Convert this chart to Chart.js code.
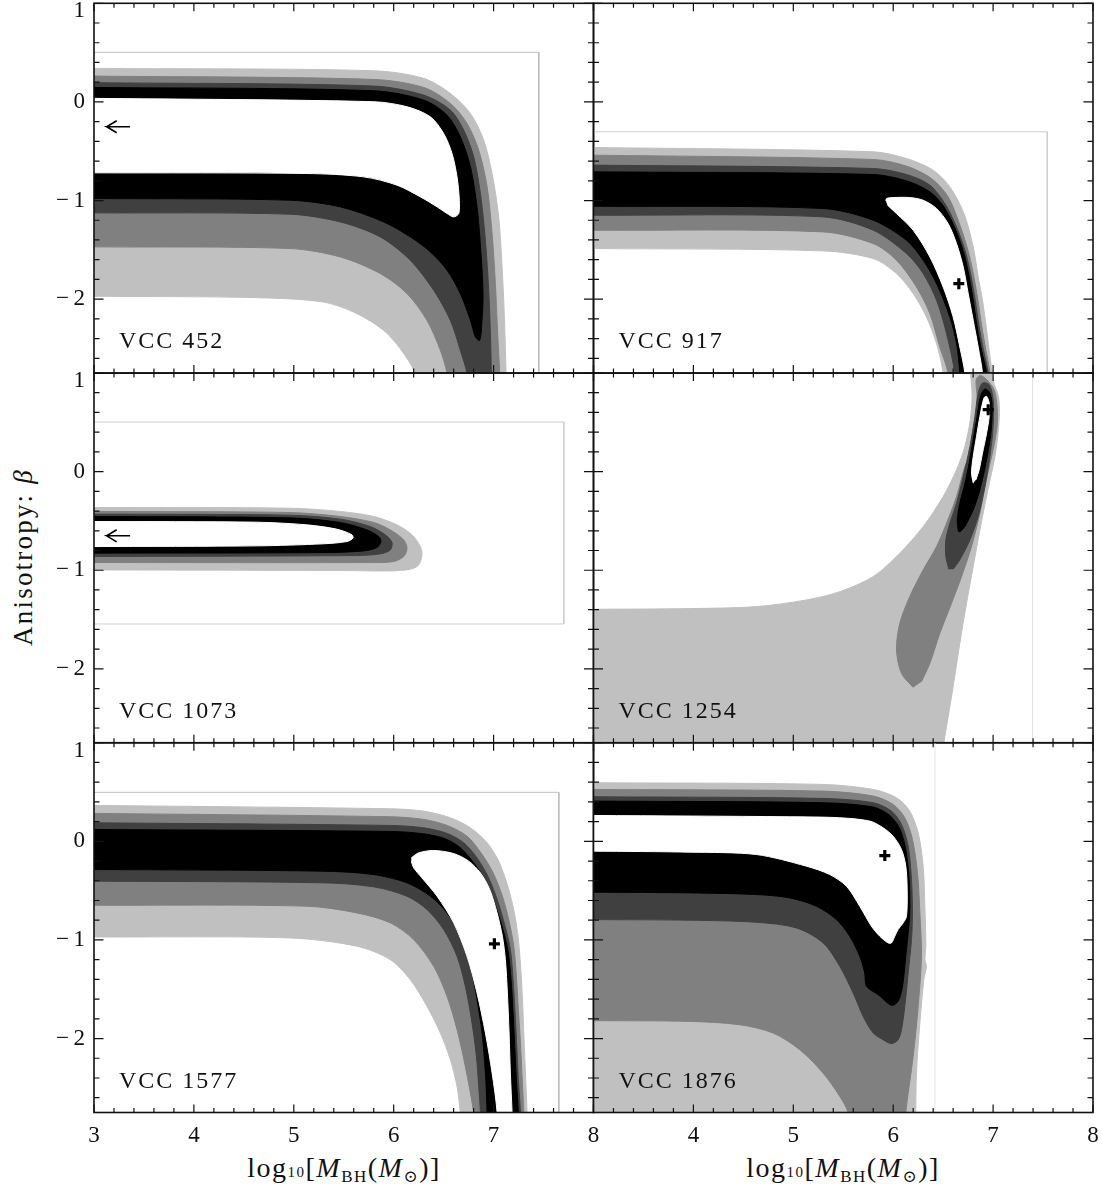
<!DOCTYPE html>
<html lang="en">
<head>
<meta charset="UTF-8">
<title>Anisotropy vs black hole mass - six VCC galaxies</title>
<script src="https://cdn.jsdelivr.net/npm/chart.js"></script>
<style>
  html, body { margin: 0; padding: 0; background: #fff; }
  #figure { position: relative; width: 1102px; height: 1195px; overflow: hidden;
            font-family: "Liberation Serif", "DejaVu Serif", serif; color: #111; }
  #figure canvas { position: absolute; }
  .xtitle { position: absolute; top: 1151px; width: 320px; margin-left: -160px; text-align: center;
            font-size: 28px; line-height: 34px; letter-spacing: 1.5px; white-space: nowrap; }
  .xtitle .small { font-size: 15px; }
  .xtitle sub { font-size: 17px; vertical-align: -5px; }
  .ytitle { position: absolute; left: 23px; top: 557px; transform: translate(-50%, -50%) rotate(-90deg);
            font-size: 27px; letter-spacing: 2.2px; white-space: nowrap; }
</style>
</head>
<body>
<div id="figure">
  <div class="xtitle" style="left:344px">log<span class="small">10</span>[<i>M</i><sub>BH</sub>(<i>M</i><sub>⊙</sub>)]</div>
  <div class="xtitle" style="left:843px">log<span class="small">10</span>[<i>M</i><sub>BH</sub>(<i>M</i><sub>⊙</sub>)]</div>
  <div class="ytitle">Anisotropy: <i>β</i></div>
</div>
<script>
// axes
const massTicks = [3, 4, 5, 6, 7, 8];
const betaTicks = [-2, -1, 0, 1];

// VCC 452  (outer shade first, best region last)
const v452Light = [[2.8,0.34],[3,0.34],[5.8,0.316],[6.3,0.239],[6.567,0.086],[6.768,-0.117],[6.901,-0.387],[6.985,-0.726],[7.051,-1.166],[7.085,-1.673],[7.108,-2.181],[7.125,-2.75],[7.13,-2.95],
  [6.26,-2.95],[6.216,-2.75],[6.066,-2.503],[5.899,-2.316],[5.632,-2.147],[5.298,-2.03],[4.63,-1.985],[3,-1.971],[2.8,-1.971]];
const v452Mid = [[2.8,0.262],[3,0.262],[5.8,0.228],[6.3,0.147],[6.567,-0.015],[6.734,-0.218],[6.851,-0.489],[6.935,-0.861],[6.985,-1.335],[7.018,-1.843],[7.041,-2.35],[7.061,-2.75],[7.065,-2.95],
  [6.56,-2.95],[6.534,-2.75],[6.467,-2.519],[6.333,-2.215],[6.133,-1.944],[5.866,-1.741],[5.465,-1.572],[4.964,-1.487],[3,-1.47],[2.8,-1.47]];
const v452Dark = [[2.8,0.195],[3,0.195],[5.8,0.161],[6.3,0.069],[6.567,-0.083],[6.701,-0.287],[6.801,-0.557],[6.868,-0.929],[6.918,-1.403],[6.951,-1.91],[6.968,-2.35],[6.978,-2.75],[6.98,-2.95],
  [6.76,-2.95],[6.734,-2.75],[6.667,-2.519],[6.567,-2.215],[6.4,-1.91],[6.166,-1.606],[5.866,-1.369],[5.465,-1.217],[4.964,-1.139],[3,-1.125],[2.8,-1.125]];
const v452Black = [[2.8,0.147],[3,0.147],[5.8,0.113],[6.3,0.019],[6.534,-0.134],[6.667,-0.354],[6.768,-0.658],[6.834,-1.064],[6.874,-1.538],[6.894,-1.944],[6.884,-2.215],[6.861,-2.418],
  [6.818,-2.384],[6.768,-2.215],[6.667,-1.944],[6.534,-1.707],[6.367,-1.521],[6.166,-1.369],[5.899,-1.217],[5.465,-1.064],[4.964,-0.997],[3,-0.98],[2.8,-0.98]];
const v452Best = [[2.8,0.036],[3,0.036],[5.8,0.002],[6.133,-0.049],[6.367,-0.151],[6.5,-0.32],[6.584,-0.523],[6.634,-0.76],[6.657,-0.997],[6.651,-1.132],[6.6,-1.166],[6.534,-1.132],
  [6.434,-1.064],[6.267,-0.963],[6.033,-0.844],[5.699,-0.76],[5.131,-0.726],[3,-0.719],[2.8,-0.719]];
const v452Grid = [[3,0.503],[7.452,0.503],[7.452,-2.95]];
const v452Limit = [[3.227,-0.191],[3.127,-0.252],[3.227,-0.313],[3.127,-0.252],[3.361,-0.252]];

// VCC 917
const v917Light = [[2.8,-0.462],[3,-0.462],[5.8,-0.506],[6.133,-0.574],[6.4,-0.692],[6.567,-0.861],[6.708,-1.132],[6.801,-1.47],[6.851,-1.775],[6.894,-2.012],[6.931,-2.283],[6.961,-2.519],[6.988,-2.75],[6.99,-2.95],
  [6.5,-2.95],[6.5,-2.75],[6.434,-2.452],[6.333,-2.181],[6.2,-1.944],[6.033,-1.741],[5.8,-1.589],[5.298,-1.511],[3,-1.487],[2.8,-1.487]];
const v917Mid = [[2.8,-0.54],[3,-0.54],[5.8,-0.584],[6.133,-0.651],[6.383,-0.777],[6.55,-0.963],[6.674,-1.267],[6.757,-1.538],[6.808,-1.775],[6.848,-2.012],[6.888,-2.283],[6.928,-2.519],[6.968,-2.75],[6.97,-2.95],
  [6.56,-2.95],[6.55,-2.75],[6.467,-2.486],[6.367,-2.147],[6.233,-1.877],[6.033,-1.606],[5.8,-1.437],[5.298,-1.318],[3,-1.301],[2.8,-1.301]];
const v917Dark = [[2.8,-0.641],[3,-0.641],[5.8,-0.675],[6.133,-0.736],[6.367,-0.844],[6.527,-1.047],[6.647,-1.301],[6.727,-1.538],[6.781,-1.775],[6.821,-2.012],[6.861,-2.283],[6.904,-2.519],[6.951,-2.75],[6.955,-2.95],
  [6.625,-2.95],[6.617,-2.75],[6.534,-2.35],[6.434,-2.012],[6.3,-1.741],[6.133,-1.538],[5.8,-1.301],[5.298,-1.166],[3,-1.149],[2.8,-1.149]];
const v917Black = [[2.8,-0.709],[3,-0.709],[5.8,-0.736],[6.133,-0.8],[6.367,-0.912],[6.507,-1.064],[6.627,-1.301],[6.708,-1.538],[6.761,-1.775],[6.801,-2.012],[6.841,-2.283],[6.884,-2.519],[6.935,-2.75],[6.94,-2.95],
  [6.67,-2.95],[6.667,-2.75],[6.634,-2.452],[6.567,-2.181],[6.434,-1.843],[6.3,-1.606],[6.133,-1.403],[5.8,-1.2],[5.298,-1.081],[3,-1.058],[2.8,-1.058]];
const v917Best = [[5.926,-1.003],[5.933,-0.98],[5.999,-0.97],[6.166,-0.97],[6.3,-0.997],[6.434,-1.081],[6.55,-1.234],[6.634,-1.437],[6.701,-1.673],[6.751,-1.944],[6.801,-2.215],[6.851,-2.486],[6.894,-2.75],[6.9,-2.95],
  [6.72,-2.95],[6.717,-2.75],[6.667,-2.486],[6.6,-2.181],[6.5,-1.877],[6.367,-1.572],[6.2,-1.301],[6.033,-1.132],[5.943,-1.047]];
const v917Grid = [[3,-0.303],[7.542,-0.303],[7.542,-2.95]];
const v917Fit = [[6.657,-1.843]];

// VCC 1073
const v1073Light = [[2.8,-0.364],[3,-0.364],[4.964,-0.371],[5.465,-0.404],[5.8,-0.455],[6.033,-0.54],[6.183,-0.641],[6.267,-0.76],[6.283,-0.844],[6.25,-0.946],[6.166,-0.99],[5.966,-1.007],[5.465,-1.003],[3,-0.997],[2.8,-0.997]];
const v1073Mid = [[2.8,-0.404],[3,-0.404],[4.964,-0.415],[5.465,-0.455],[5.8,-0.516],[5.966,-0.591],[6.1,-0.692],[6.133,-0.777],[6.1,-0.861],[5.999,-0.912],[5.8,-0.922],[3,-0.922],[2.8,-0.922]];
const v1073Dark = [[2.8,-0.431],[3,-0.431],[4.964,-0.442],[5.465,-0.482],[5.766,-0.557],[5.916,-0.641],[5.983,-0.719],[5.966,-0.794],[5.866,-0.834],[5.632,-0.851],[3,-0.861],[2.8,-0.861]];
const v1073Black = [[2.8,-0.455],[3,-0.455],[4.964,-0.469],[5.465,-0.516],[5.732,-0.591],[5.849,-0.658],[5.872,-0.709],[5.832,-0.77],[5.699,-0.804],[5.298,-0.821],[3,-0.827],[2.8,-0.827]];
const v1073Best = [[2.8,-0.506],[3,-0.506],[4.63,-0.513],[5.131,-0.54],[5.432,-0.584],[5.582,-0.641],[5.592,-0.675],[5.532,-0.709],[5.298,-0.732],[4.63,-0.753],[3,-0.76],[2.8,-0.76]];
const v1073Grid = [[3,0.503],[7.703,0.503],[7.703,-1.545],[3,-1.545]];
const v1073Limit = [[3.227,-0.59],[3.127,-0.651],[3.227,-0.712],[3.127,-0.651],[3.361,-0.651]];

// VCC 1254
const v1254Light = [[2.8,-2.95],[2.8,-1.396],[3,-1.396],[3.962,-1.389],[4.63,-1.369],[5.131,-1.301],[5.465,-1.217],[5.8,-1.064],[6.066,-0.827],[6.3,-0.557],[6.5,-0.253],[6.634,0.019],[6.717,0.255],[6.771,0.52],[6.79,0.76],[6.78,0.93],[6.77,1.1],
  [6.99,1.1],[6.99,0.965],[7.02,0.86],[7.054,0.76],[7.064,0.6],[7.05,0.4],[7.02,0.16],[6.945,-0.2],[6.868,-0.591],[6.801,-0.963],[6.734,-1.335],[6.667,-1.741],[6.6,-2.181],[6.55,-2.486],[6.507,-2.75],[6.48,-2.95]];
const v1254Mid = [[6.2,-2.188],[6.083,-2.046],[6.033,-1.809],[6.066,-1.538],[6.166,-1.267],[6.3,-0.997],[6.434,-0.76],[6.534,-0.523],[6.634,-0.253],[6.717,0.052],[6.764,0.153],[6.804,0.356],[6.838,0.56],[6.84,0.762],[6.83,0.93],
  [6.871,0.975],[6.938,0.93],[7.01,0.83],[7.04,0.66],[7.04,0.46],[7.0,0.22],[6.955,0.02],[6.91,-0.2],[6.868,-0.421],[6.784,-0.76],[6.684,-1.064],[6.584,-1.335],[6.467,-1.64],[6.367,-1.944],[6.283,-2.13]];
const v1254Dark = [[6.557,-0.99],[6.527,-0.861],[6.527,-0.692],[6.567,-0.523],[6.634,-0.32],[6.701,-0.049],[6.768,0.255],[6.818,0.56],[6.851,0.797],[6.894,0.898],[6.961,0.882],[7.001,0.729],[7.001,0.459],[6.968,0.154],
  [6.918,-0.151],[6.851,-0.455],[6.768,-0.692],[6.667,-0.895],[6.6,-0.99]];
const v1254Black = [[6.651,-0.607],[6.641,-0.489],[6.667,-0.32],[6.727,-0.083],[6.784,0.222],[6.834,0.526],[6.874,0.763],[6.918,0.838],[6.968,0.797],[6.991,0.662],[6.978,0.391],[6.935,0.12],[6.868,-0.184],
  [6.801,-0.387],[6.717,-0.557],[6.667,-0.614]];
const v1254Best = [[6.801,-0.117],[6.784,-0.015],[6.801,0.154],[6.834,0.357],[6.868,0.56],[6.908,0.746],[6.935,0.763],[6.961,0.695],[6.961,0.56],[6.935,0.391],[6.894,0.188],[6.861,0.019],[6.828,-0.083]];
const v1254Grid = [[7.395,1.1],[7.395,-2.95]];
const v1254Fit = [[6.951,0.628]];

// VCC 1577
const v1577Light = [[2.8,0.364],[3,0.364],[5.966,0.33],[6.3,0.306],[6.567,0.239],[6.768,0.137],[6.935,-0.015],[7.051,-0.201],[7.142,-0.455],[7.208,-0.726],[7.248,-0.997],[7.275,-1.335],[7.292,-1.673],[7.305,-2.012],[7.319,-2.35],[7.335,-2.75],[7.34,-2.95],
  [6.69,-2.95],[6.667,-2.75],[6.634,-2.486],[6.567,-2.215],[6.467,-1.944],[6.333,-1.673],[6.166,-1.403],[5.966,-1.2],[5.632,-1.064],[4.964,-0.98],[3,-0.97],[2.8,-0.97]];
const v1577Mid = [[2.8,0.283],[3,0.283],[5.966,0.249],[6.3,0.222],[6.534,0.161],[6.734,0.052],[6.874,-0.117],[6.995,-0.32],[7.088,-0.557],[7.155,-0.81],[7.202,-1.064],[7.228,-1.369],[7.248,-1.707],[7.269,-2.046],[7.285,-2.384],[7.302,-2.75],[7.305,-2.95],
  [6.82,-2.95],[6.801,-2.75],[6.717,-2.283],[6.634,-1.91],[6.534,-1.572],[6.4,-1.267],[6.2,-0.997],[5.966,-0.827],[5.632,-0.726],[5.131,-0.658],[3,-0.648],[2.8,-0.648]];
const v1577Dark = [[2.8,0.188],[3,0.188],[5.966,0.161],[6.3,0.137],[6.534,0.08],[6.701,-0.015],[6.834,-0.168],[6.951,-0.371],[7.041,-0.607],[7.115,-0.861],[7.168,-1.098],[7.195,-1.403],[7.215,-1.741],[7.232,-2.08],[7.248,-2.418],[7.269,-2.75],[7.27,-2.95],
  [6.87,-2.95],[6.868,-2.75],[6.851,-2.486],[6.828,-2.181],[6.784,-1.843],[6.717,-1.47],[6.634,-1.166],[6.5,-0.895],[6.333,-0.692],[6.133,-0.557],[5.8,-0.462],[5.298,-0.421],[3,-0.404],[2.8,-0.404]];
const v1577Black = [[2.8,0.12],[3,0.12],[5.966,0.1],[6.3,0.076],[6.517,0.025],[6.667,-0.066],[6.801,-0.218],[6.918,-0.404],[7.008,-0.624],[7.085,-0.861],[7.142,-1.098],[7.175,-1.403],[7.195,-1.741],[7.212,-2.08],[7.228,-2.418],[7.248,-2.75],[7.25,-2.95],
  [6.94,-2.95],[6.935,-2.75],[6.918,-2.35],[6.884,-1.944],[6.834,-1.606],[6.768,-1.267],[6.667,-0.963],[6.534,-0.726],[6.367,-0.557],[6.133,-0.421],[5.8,-0.337],[5.298,-0.303],[3,-0.286],[2.8,-0.286]];
const v1577Best = [[6.176,-0.168],[6.25,-0.117],[6.4,-0.093],[6.6,-0.124],[6.751,-0.201],[6.868,-0.32],[6.961,-0.489],[7.035,-0.726],[7.088,-0.963],[7.118,-1.2],[7.138,-1.538],[7.155,-1.944],[7.168,-2.35],[7.185,-2.75],[7.19,-2.95],
  [7.03,-2.95],[7.035,-2.75],[6.985,-2.35],[6.918,-1.944],[6.834,-1.538],[6.734,-1.166],[6.6,-0.827],[6.434,-0.557],[6.283,-0.371],[6.2,-0.269],[6.176,-0.201]];
const v1577Grid = [[3,0.497],[7.653,0.497],[7.653,-2.95]];
const v1577Fit = [[7.008,-1.04]];

// VCC 1876
const v1876Light = [[2.8,-2.95],[2.8,0.594],[3,0.594],[5.298,0.577],[5.8,0.526],[6.033,0.442],[6.166,0.306],[6.25,0.086],[6.3,-0.252],[6.317,-0.658],[6.327,-1.064],[6.317,-1.2],[6.333,-1.267],[6.307,-1.403],[6.267,-1.843],[6.233,-2.35],[6.226,-2.75],[6.225,-2.95]];
const v1876Mid = [[2.8,0.526],[3,0.526],[5.298,0.509],[5.8,0.459],[5.999,0.374],[6.116,0.239],[6.193,0.019],[6.243,-0.32],[6.267,-0.726],[6.283,-1.166],[6.25,-1.673],[6.2,-2.181],[6.126,-2.75],[6.125,-2.95],
  [5.56,-2.95],[5.548,-2.75],[5.465,-2.587],[5.298,-2.35],[5.064,-2.113],[4.797,-1.944],[4.463,-1.86],[3.962,-1.826],[3,-1.819],[2.8,-1.819]];
const v1876Dark = [[2.8,0.452],[3,0.452],[5.298,0.435],[5.8,0.391],[5.983,0.306],[6.083,0.171],[6.15,-0.049],[6.183,-0.387],[6.193,-0.726],[6.183,-0.997],[6.15,-1.335],[6.116,-1.673],[6.083,-1.91],[6.049,-2.012],[5.983,-2.052],
  [5.899,-2.012],[5.8,-1.944],[5.699,-1.775],[5.599,-1.538],[5.465,-1.267],[5.298,-1.03],[5.031,-0.878],[4.63,-0.821],[3.962,-0.8],[3,-0.794],[2.8,-0.794]];
const v1876Black = [[2.8,0.408],[3,0.408],[5.298,0.391],[5.8,0.347],[5.966,0.262],[6.066,0.127],[6.126,-0.083],[6.16,-0.387],[6.166,-0.726],[6.15,-0.929],[6.126,-1.166],[6.093,-1.47],[6.049,-1.623],[5.983,-1.663],
  [5.849,-1.555],[5.732,-1.47],[5.715,-1.335],[5.665,-1.166],[5.565,-0.963],[5.432,-0.794],[5.231,-0.658],[4.964,-0.574],[4.63,-0.54],[3.962,-0.523],[3,-0.516],[2.8,-0.516]];
const v1876Best = [[2.8,0.262],[3,0.262],[4.964,0.249],[5.465,0.239],[5.766,0.205],[5.899,0.137],[5.999,0.052],[6.083,-0.083],[6.126,-0.252],[6.14,-0.489],[6.133,-0.76],[6.1,-0.827],[6.049,-0.895],[6.016,-0.963],[5.983,-1.03],
  [5.949,-1.03],[5.866,-0.963],[5.782,-0.861],[5.665,-0.658],[5.532,-0.455],[5.365,-0.337],[5.131,-0.252],[4.63,-0.134],[3.962,-0.11],[3,-0.1],[2.8,-0.1]];
const v1876Grid = [[6.417,1.1],[6.417,-2.95]];
const v1876Fit = [[5.916,-0.145]];

// layout of the 2x3 grid (pixels)
const colLeft = [94, 593.5];
const rowTop = [3.3, 373, 742.7];
const panelW = 499.5, panelH = 369.8;
const shades = ['#c0c0c0', '#808080', '#404040', '#000000', '#ffffff'];

const panels = [
  {name: 'VCC 452',  col: 0, row: 0, layers: [v452Light, v452Mid, v452Dark, v452Black, v452Best],   grid: v452Grid,  gridColor: '#bdbdbd', limit: v452Limit},
  {name: 'VCC 917',  col: 1, row: 0, layers: [v917Light, v917Mid, v917Dark, v917Black, v917Best],   grid: v917Grid,  gridColor: '#cfcfcf', fit: v917Fit},
  {name: 'VCC 1073', col: 0, row: 1, layers: [v1073Light, v1073Mid, v1073Dark, v1073Black, v1073Best], grid: v1073Grid, gridColor: '#cfcfcf', limit: v1073Limit},
  {name: 'VCC 1254', col: 1, row: 1, layers: [v1254Light, v1254Mid, v1254Dark, v1254Black, v1254Best], grid: v1254Grid, gridColor: '#e2e2e2', fit: v1254Fit},
  {name: 'VCC 1577', col: 0, row: 2, layers: [v1577Light, v1577Mid, v1577Dark, v1577Black, v1577Best], grid: v1577Grid, gridColor: '#bdbdbd', fit: v1577Fit},
  {name: 'VCC 1876', col: 1, row: 2, layers: [v1876Light, v1876Mid, v1876Dark, v1876Black, v1876Best], grid: v1876Grid, gridColor: '#f0f0f0', fit: v1876Fit}
];

function tickText(v) {
  return v < 0 ? '\u2212\u2009' + Math.abs(v) : String(v);
}

// PGPLOT-like box: frame, inward ticks on all sides, numeric labels, panel name
const pgBox = {
  id: 'pgBox',
  afterDraw(chart, args, o) {
    const {ctx, chartArea: a} = chart;
    const xs = chart.scales.x, ys = chart.scales.y;
    ctx.save();
    ctx.strokeStyle = '#111';
    ctx.lineWidth = 1.2;
    ctx.beginPath();
    for (let k = 15; k <= 40; k++) {          // minor every 0.2 in log M
      const px = xs.getPixelForValue(k / 5);
      const len = k % 5 === 0 ? 8 : 4.5;
      ctx.moveTo(px, a.bottom); ctx.lineTo(px, a.bottom - len);
      ctx.moveTo(px, a.top); ctx.lineTo(px, a.top + len);
    }
    for (let k = -13; k <= 5; k++) {          // minor every 0.2 in beta
      const py = ys.getPixelForValue(k / 5);
      const len = k % 5 === 0 ? 9.5 : 5.5;
      ctx.moveTo(a.left, py); ctx.lineTo(a.left + len, py);
      ctx.moveTo(a.right, py); ctx.lineTo(a.right - len, py);
    }
    ctx.stroke();
    ctx.lineWidth = 1.6;
    ctx.strokeRect(a.left, a.top, a.right - a.left, a.bottom - a.top);

    ctx.fillStyle = '#111';
    ctx.font = '23px "Liberation Serif", serif';
    if (o.yLabels) {
      ctx.textAlign = 'right';
      ctx.textBaseline = 'middle';
      betaTicks.forEach(v => {
        const py = Math.max(ys.getPixelForValue(v), a.top + 8);
        ctx.fillText(tickText(v), a.left - 9, py);
      });
    }
    if (o.xLabels) {
      ctx.textAlign = 'center';
      ctx.textBaseline = 'middle';
      massTicks.forEach(v => {
        if (o.skipFirst && v === massTicks[0]) return;
        ctx.fillText(tickText(v), xs.getPixelForValue(v), a.bottom + 23);
      });
    }
    ctx.font = '24px "Liberation Serif", serif';
    if ('letterSpacing' in ctx) ctx.letterSpacing = '2px';
    ctx.textAlign = 'left';
    ctx.textBaseline = 'alphabetic';
    ctx.fillText(o.name, a.left + 25, a.bottom - 25);
    ctx.restore();
  }
};

const fig = document.getElementById('figure');
const cw = 600, chh = 450;

panels.forEach(p => {
  const cv = document.createElement('canvas');
  const cl = Math.floor(colLeft[p.col]) - 70;
  const ct = Math.floor(rowTop[p.row]) - 12;
  cv.width = cw; cv.height = chh;
  cv.style.left = cl + 'px';
  cv.style.top = ct + 'px';
  fig.appendChild(cv);
  const padL = colLeft[p.col] - cl, padT = rowTop[p.row] - ct;

  const datasets = p.layers.map((pts, i) => ({
    data: pts,
    fill: 'shape',
    backgroundColor: shades[i],
    borderColor: shades[i],
    borderWidth: 1,
    pointRadius: 0,
    tension: 0.3,
    order: 10 - i
  }));
  datasets.push({data: p.grid, borderColor: p.gridColor, borderWidth: 1, fill: false, pointRadius: 0, tension: 0, order: 2});
  if (p.limit) {
    datasets.push({data: p.limit, borderColor: '#000', borderWidth: 1.6, fill: false, pointRadius: 0, tension: 0, order: 1});
  }
  if (p.fit) {
    datasets.push({data: p.fit, showLine: false, pointStyle: 'cross', pointRadius: 5.5, pointBorderWidth: 3.2,
                   pointBorderColor: '#000', pointBackgroundColor: '#000', order: 0});
  }

  new Chart(cv, {
    type: 'line',
    data: {datasets},
    options: {
      responsive: false,
      animation: false,
      events: [],
      layout: {autoPadding: false, padding: {left: padL, top: padT, right: cw - padL - panelW, bottom: chh - padT - panelH}},
      scales: {
        x: {type: 'linear', min: 3, max: 8, display: false},
        y: {type: 'linear', min: -2.75, max: 1, display: false}
      },
      plugins: {
        legend: {display: false},
        tooltip: {enabled: false},
        pgBox: {name: p.name, yLabels: p.col === 0, xLabels: p.row === 2, skipFirst: p.col === 1}
      }
    },
    plugins: [pgBox]
  });
});
</script>
</body>
</html>
